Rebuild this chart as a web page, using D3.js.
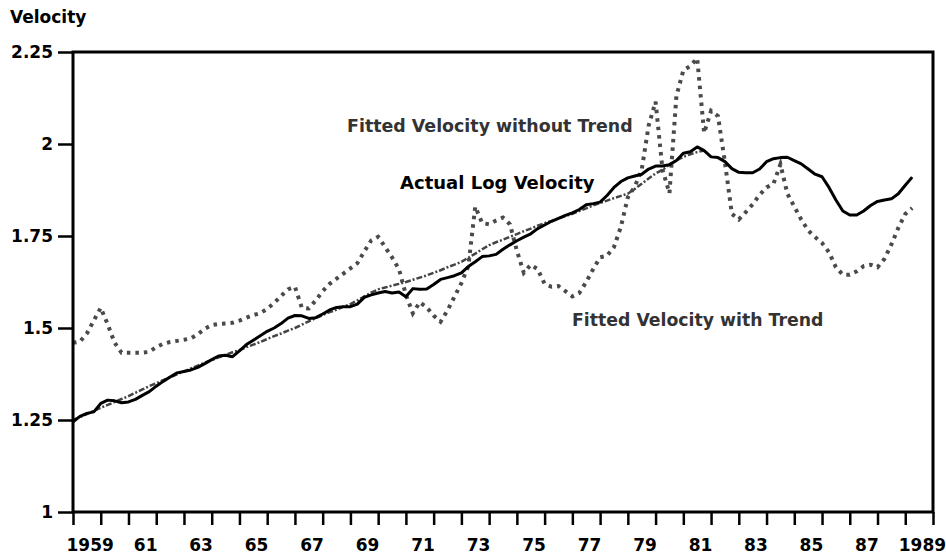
<!DOCTYPE html>
<html>
<head>
<meta charset="utf-8">
<script src="https://cdn.jsdelivr.net/npm/d3@7"></script>
<style>
  html, body { margin: 0; padding: 0; background: #fff; }
  svg { display: block; font-family: "DejaVu Sans", sans-serif; font-weight: bold; }
</style>
</head>
<body>
<div id="chart"></div>
<script>
// ── data (quarterly, first quarter = 1959 Q1) ──
const startYear = 1959;

const actualLogVelocity = [
  1.245, 1.260, 1.268, 1.272, 1.295, 1.304, 1.302, 1.297,
  1.299, 1.306, 1.317, 1.327, 1.342, 1.355, 1.367, 1.378,
  1.382, 1.386, 1.393, 1.403, 1.414, 1.424, 1.426, 1.422,
  1.438, 1.455, 1.467, 1.479, 1.491, 1.500, 1.512, 1.527,
  1.534, 1.533, 1.526, 1.528, 1.538, 1.549, 1.556, 1.558,
  1.558, 1.565, 1.583, 1.590, 1.595, 1.599, 1.595, 1.598,
  1.585, 1.607, 1.605, 1.606, 1.618, 1.632, 1.637, 1.642,
  1.650, 1.667, 1.680, 1.694, 1.696, 1.700, 1.714, 1.726,
  1.737, 1.747, 1.756, 1.770, 1.780, 1.790, 1.798, 1.806,
  1.813, 1.822, 1.835, 1.838, 1.842, 1.860, 1.882, 1.898,
  1.908, 1.913, 1.918, 1.932, 1.940, 1.940, 1.944, 1.955,
  1.975, 1.979, 1.992, 1.982, 1.965, 1.963, 1.952, 1.933,
  1.923, 1.922, 1.922, 1.932, 1.952, 1.960, 1.963, 1.964,
  1.955, 1.946, 1.932, 1.918, 1.911, 1.882, 1.848, 1.818,
  1.807, 1.807, 1.818, 1.833, 1.844, 1.848, 1.851, 1.865,
  1.888, 1.910
];

const fittedWithTrend = [
  1.250, 1.258, 1.266, 1.275, 1.283, 1.291, 1.299, 1.307,
  1.315, 1.324, 1.333, 1.342, 1.350, 1.358, 1.366, 1.374,
  1.382, 1.390, 1.398, 1.406, 1.413, 1.420, 1.427, 1.434,
  1.440, 1.448, 1.455, 1.462, 1.470, 1.478, 1.485, 1.493,
  1.500, 1.509, 1.518, 1.527, 1.535, 1.543, 1.550, 1.558,
  1.565, 1.575, 1.586, 1.596, 1.605, 1.610, 1.615, 1.620,
  1.625, 1.631, 1.637, 1.643, 1.650, 1.657, 1.665, 1.672,
  1.680, 1.691, 1.702, 1.714, 1.725, 1.733, 1.740, 1.748,
  1.755, 1.763, 1.770, 1.778, 1.785, 1.791, 1.798, 1.804,
  1.810, 1.818, 1.825, 1.833, 1.840, 1.846, 1.853, 1.859,
  1.865, 1.878, 1.892, 1.906, 1.920, 1.930, 1.944, 1.955,
  1.965, 1.972, 1.978, 1.982
];

const fittedWithoutTrend = [
  1.460, 1.463, 1.485, 1.520, 1.555, 1.510, 1.460, 1.433,
  1.433, 1.433, 1.433, 1.435, 1.448, 1.457, 1.462, 1.465,
  1.468, 1.472, 1.483, 1.498, 1.508, 1.511, 1.512, 1.514,
  1.520, 1.528, 1.535, 1.540, 1.552, 1.568, 1.587, 1.605,
  1.612, 1.555, 1.553, 1.575, 1.600, 1.620, 1.634, 1.648,
  1.662, 1.676, 1.708, 1.738, 1.748, 1.720, 1.692, 1.660,
  1.590, 1.540, 1.570, 1.556, 1.534, 1.517, 1.548, 1.585,
  1.622, 1.668, 1.830, 1.785, 1.782, 1.792, 1.800, 1.782,
  1.710, 1.650, 1.672, 1.660, 1.620, 1.612, 1.614, 1.600,
  1.586, 1.595, 1.625, 1.660, 1.692, 1.696, 1.720, 1.775,
  1.855, 1.884, 1.930, 2.050, 2.115, 1.930, 1.866, 2.130,
  2.200, 2.212, 2.233, 2.030, 2.090, 2.076, 1.950, 1.810,
  1.795, 1.815, 1.836, 1.862, 1.882, 1.892, 1.945, 1.865,
  1.830, 1.795, 1.765, 1.747, 1.731, 1.706, 1.665, 1.645,
  1.645, 1.654, 1.668, 1.672, 1.665, 1.688, 1.727, 1.772,
  1.810, 1.826
];

const yTicks      = [1, 1.25, 1.5, 1.75, 2, 2.25];
const yTickLabels = ["1", "1.25", "1.5", "1.75", "2", "2.25"];
const xLabelYears = [1959, 1961, 1963, 1965, 1967, 1969, 1971, 1973, 1975, 1977, 1979, 1981, 1983, 1985, 1987, 1989];
const xLabels     = ["1959", "61", "63", "65", "67", "69", "71", "73", "75", "77", "79", "81", "83", "85", "87", "1989"];

// ── layout ──
const width = 946, height = 554;
const margin = { top: 52, right: 13, bottom: 42, left: 73 };

const svg = d3.select("#chart").append("svg")
  .attr("width", width)
  .attr("height", height);

const x = d3.scaleLinear().domain([1959, 1990]).range([margin.left, width - margin.right]);
const y = d3.scaleLinear().domain([1, 2.25]).range([height - margin.bottom, margin.top]);

const toPoints = (values) => values.map((v, i) => ({ t: startYear + i / 4, v }));
const line = d3.line().x((d) => x(d.t)).y((d) => y(d.v));

// ── series ──
svg.append("path")
  .datum(toPoints(fittedWithoutTrend))
  .attr("fill", "none")
  .attr("stroke", "#4a4a4a")
  .attr("stroke-width", 4)
  .attr("stroke-dasharray", "3.5 5")
  .attr("d", line);

svg.append("path")
  .datum(toPoints(fittedWithTrend))
  .attr("fill", "none")
  .attr("stroke", "#444")
  .attr("stroke-width", 2.5)
  .attr("stroke-dasharray", "6 2 2 2")
  .attr("d", line);

svg.append("path")
  .datum(toPoints(actualLogVelocity))
  .attr("fill", "none")
  .attr("stroke", "#000")
  .attr("stroke-width", 3)
  .attr("stroke-linejoin", "round")
  .attr("d", line);

// ── frame ──
svg.append("rect")
  .attr("x", x(1959)).attr("y", y(2.25))
  .attr("width", x(1990) - x(1959))
  .attr("height", y(1) - y(2.25))
  .attr("fill", "none")
  .attr("stroke", "#000")
  .attr("stroke-width", 3);

// ── axes ──
const yAxis = svg.append("g")
  .attr("transform", `translate(${x(1959)},0)`)
  .call(d3.axisLeft(y).tickValues(yTicks).tickFormat((d, i) => yTickLabels[i]).tickSize(15).tickPadding(5));

const xTicks = svg.append("g")
  .attr("transform", `translate(0,${y(1)})`)
  .call(d3.axisBottom(x).tickValues(d3.range(1959, 1991)).tickFormat("").tickSize(13));

const xText = svg.append("g")
  .attr("transform", `translate(0,${y(1)})`)
  .call(d3.axisBottom(x).tickValues(xLabelYears.map((d) => d + 0.6)).tickFormat((d, i) => xLabels[i]).tickSize(0).tickPadding(27));

[yAxis, xTicks, xText].forEach((g) => {
  g.select(".domain").remove();
  g.selectAll("line").attr("stroke", "#000").attr("stroke-width", 2.5);
  g.selectAll("text")
    .attr("fill", "#000")
    .style("font-family", "DejaVu Sans, sans-serif")
    .style("font-weight", "bold")
    .style("font-size", "17px");
});

// ── axis title ──
svg.append("text")
  .attr("x", 10).attr("y", 23)
  .attr("fill", "#000")
  .style("font-size", "17px")
  .text("Velocity");

// ── series labels ──
svg.append("text")
  .attr("x", x(1968.88)).attr("y", y(2.033))
  .attr("fill", "#333")
  .style("font-size", "17.4px")
  .text("Fitted Velocity without Trend");

svg.append("text")
  .attr("x", x(1970.79)).attr("y", y(1.878))
  .attr("fill", "#000")
  .style("font-size", "18px")
  .text("Actual Log Velocity");

svg.append("text")
  .attr("x", x(1976.99)).attr("y", y(1.505))
  .attr("fill", "#333")
  .style("font-size", "17.3px")
  .text("Fitted Velocity with Trend");
</script>
</body>
</html>
